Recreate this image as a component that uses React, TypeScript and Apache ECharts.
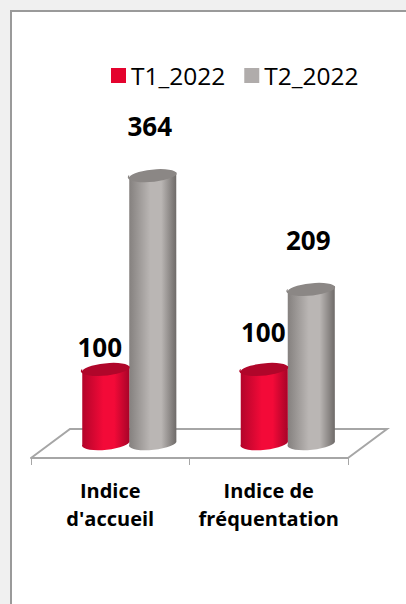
import React, { useEffect, useRef } from "react";
import * as echarts from "echarts";

const categories = ["Indice\nd'accueil", "Indice de\nfréquentation"];
const seriesNames = ["T1_2022", "T2_2022"];
const t1Values = [100, 100];
const t2Values = [364, 209];
const font = '"Open Sans", sans-serif';

const RX = 23.5;
const RY = 6.5;
const TILT = 2.5;
const SHIFT = 19;

function cylinder(api: any, sideX: number, stops: string[], topColor: string, labelDx: number, labelDy: number) {
  const cat = api.value(0);
  const val = api.value(1);
  const top = api.coord([cat, val]);
  const base = api.coord([cat, 0]);
  const cx = top[0] + SHIFT + sideX;
  const x0 = cx - RX;
  const x1 = cx + RX;
  const yt = top[1];
  const yb = base[1];
  const rot = -6;
  const body = `M ${x0} ${yt + TILT} L ${x0} ${yb + TILT} A ${RX} ${RY} ${rot} 0 0 ${x1} ${yb - TILT} L ${x1} ${yt - TILT} Z`;
  const cap = `M ${x0} ${yt + TILT} A ${RX} ${RY} ${rot} 0 1 ${x1} ${yt - TILT} A ${RX} ${RY} ${rot} 0 1 ${x0} ${yt + TILT} Z`;
  return {
    type: "group",
    children: [
      {
        type: "path",
        shape: { pathData: body },
        style: {
          fill: new echarts.graphic.LinearGradient(0, 0, 1, 0, [
            { offset: 0, color: stops[0] },
            { offset: 0.45, color: stops[1] },
            { offset: 0.68, color: stops[1] },
            { offset: 1, color: stops[2] },
          ]),
        },
      },
      { type: "path", shape: { pathData: cap }, style: { fill: topColor } },
      {
        type: "text",
        style: {
          text: String(val),
          x: cx + labelDx,
          y: yt + labelDy,
          align: "center",
          verticalAlign: "middle",
          font: `bold 26px ${font}`,
          fill: "#000",
        },
      },
    ],
  };
}

const t1LabelDx = [-6, -1];
const t1LabelDy = [-22, -37];

export default function App() {
  const ref = useRef<HTMLDivElement>(null);
  useEffect(() => {
    const chart = echarts.init(ref.current!, null, { renderer: "svg" });
    chart.setOption({
      animation: false,
      backgroundColor: "transparent",
      legend: {
        data: [
          { name: seriesNames[0], itemStyle: { color: "#e4032e" } },
          { name: seriesNames[1], itemStyle: { color: "#b0acab" } },
        ],
        left: 106,
        top: 58,
        icon: "rect",
        itemWidth: 15,
        itemHeight: 15,
        itemGap: 19,
        textStyle: { fontFamily: font, fontSize: 24.5, color: "#000", padding: [0, 0, 5, 0] },
      },
      grid: { left: 31, right: 58, top: 42, bottom: 162, containLabel: false },
      xAxis: {
        type: "category",
        data: categories,
        offset: 16,
        axisLine: { onZero: false, lineStyle: { color: "#a6a6a6", width: 2 } },
        axisTick: { show: true, alignWithLabel: false, length: 7, lineStyle: { color: "#a6a6a6", width: 1 } },
        axisLabel: {
          fontFamily: font,
          fontSize: 20,
          fontWeight: "bold",
          color: "#000",
          lineHeight: 28,
          margin: 18,
          interval: 0,
        },
      },
      yAxis: { type: "value", min: 0, max: 545, show: false },
      series: [
        {
          type: "custom",
          name: "floor",
          silent: true,
          z: 1,
          data: [[0, 0]],
          renderItem: (params: any) => {
            const c = params.coordSys;
            const yf = c.y + c.height + 16;
            const dx = 39;
            const dy = 29;
            return {
              type: "polyline",
              shape: {
                points: [
                  [c.x, yf],
                  [c.x + dx, yf - dy],
                  [c.x + c.width + dx, yf - dy],
                  [c.x + c.width, yf],
                ],
              },
              style: { stroke: "#a6a6a6", lineWidth: 2, fill: "none" },
            };
          },
        },
        {
          type: "custom",
          name: seriesNames[1],
          z: 2,
          encode: { x: 0, y: 1 },
          data: t2Values.map((v, i) => [i, v]),
          renderItem: (_: any, api: any) =>
            cylinder(api, 23.5, ["#84807e", "#bab6b4", "#6e6a68"], "#8b8785", -3, -49),
        },
        {
          type: "custom",
          name: seriesNames[0],
          z: 3,
          encode: { x: 0, y: 1 },
          data: t1Values.map((v, i) => [i, v]),
          renderItem: (params: any, api: any) =>
            cylinder(api, -23.5, ["#b2042a", "#f30a38", "#a80328"], "#b0062a", t1LabelDx[params.dataIndex], t1LabelDy[params.dataIndex]),
        },
      ],
    });
    return () => chart.dispose();
  }, []);
  return (
    <div style={{ position: "fixed", left: 0, top: 0, width: 406, height: 604, background: "#f0f0f0", overflow: "hidden" }}>
      <div style={{ position: "absolute", left: 10, top: 10, width: 396, height: 594, boxSizing: "border-box", background: "#fff", borderLeft: "2px solid #9a9a9a", borderTop: "2px solid #9a9a9a" }} />
      <div ref={ref} style={{ position: "absolute", left: 0, top: 0, width: 406, height: 604 }} />
    </div>
  );
}
